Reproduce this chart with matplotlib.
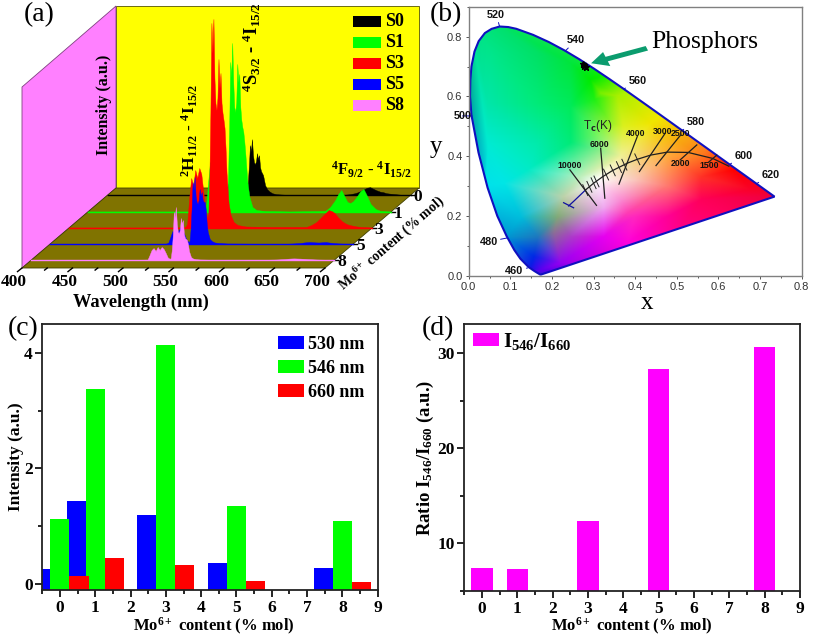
import matplotlib
matplotlib.use("Agg")
import matplotlib.pyplot as plt
import matplotlib.tri as mtri
import numpy as np
from matplotlib.patches import Polygon, Rectangle, FancyArrow
from matplotlib.transforms import Affine2D
from matplotlib.ticker import MultipleLocator

# ---- panel (a) spectra
wl = [400, 510, 515, 517, 519, 521, 523, 525, 527, 529, 531, 533, 535, 537, 538, 539, 540, 541, 542, 543,
      544, 545, 546, 547, 548, 549, 550, 551, 552, 553, 554, 555, 556, 558, 560, 563, 567, 575, 600, 635,
      640, 645, 648, 651, 654, 657, 660, 663, 666, 670, 673, 676, 680, 685, 690, 700]
S0 = [.3, .3, .5, 2, 9, 16, 14, 19, 17, 22, 18, 11, 6, 3, 4, 14, 30, 50, 44, 56,
      40, 33, 31, 34, 42, 36, 40, 28, 24, 22, 20, 15, 10, 6, 4, 2, 1, .5, .3, .5,
      1, 2, 3, 4.5, 6, 7.5, 8, 6.5, 5, 3.5, 3, 2, 1.5, 1, .5, .3]
S1 = [.5, .5, 1, 5, 28, 50, 44, 62, 54, 70, 58, 36, 18, 10, 14, 40, 85, 150, 135, 169,
      130, 105, 100, 110, 148, 130, 138, 105, 92, 85, 80, 70, 58, 30, 15, 5, 2, 1, .5, 1,
      5, 12, 18, 22, 16, 10, 9, 11, 15, 21, 23, 17, 8, 3, 1, .5]
S3 = [.5, .5, .8, 4, 30, 50, 42, 58, 50, 60, 54, 36, 18, 10, 14, 50, 115, 205, 175, 209,
      150, 125, 118, 130, 169, 140, 155, 125, 115, 108, 100, 80, 55, 25, 13, 6, 3, 1.5, 1, 1,
      3, 6, 9, 12, 15, 18, 17, 15, 11, 7, 5, 3.5, 2.5, 1.5, 1, .5]
S5 = [.3, .3, .4, 1.5, 7, 13, 11, 15, 13, 17, 14, 9, 4, 2, 3, 15, 35, 62, 55, 67,
      48, 42, 40, 44, 55, 48, 52, 44, 42, 42, 35, 20, 12, 5, 3, 1.5, 1, .5, .3, .3,
      .5, .8, 1, 1.5, 1.8, 2, 1.8, 1.6, 1.5, 1.8, 2, 1.5, 1, .6, .4, .3]
S8 = [.3, .3, .4, 5, 10, 12, 9, 13, 10, 13, 11, 7, 2.5, 1.2, 2, 10, 25, 48, 42, 53,
      36, 28, 27, 30, 42, 36, 40, 26, 22, 21, 20, 16, 9, 3, 1.5, .8, .5, .3, .3, .3,
      .4, .6, .8, 1, 1.3, 1.5, 1.6, 1.5, 1.4, 1.2, 1, .8, .6, .4, .3, .3]
series_names = ["S0", "S1", "S3", "S5", "S8"]
series_depth = [0.91, 0.70, 0.50, 0.30, 0.10]
series_cols = ["#000000", "#00ff00", "#ff0000", "#0000ff", "#ff80ff"]
depth_labels = ["0", "1", "3", "5", "8"]

# ---- panel (b) CIE locus, planckian locus, isotherms
loc_x = [.1741, .1733, .1714, .1644, .1566, .1440, .1241, .1096, .0913, .0687, .0454, .0235, .0065, .0032, .0039, .0065,
         .0139, .024, .0389, .055, .0743, .095, .1142, .1547, .1929, .2296, .2658, .3016, .3373, .3731, .4087, .4441,
         .4788, .5125, .5448, .5752, .6029, .6270, .6658, .6915, .7190, .7300, .7347]
loc_y = [.0050, .0048, .0051, .0109, .0177, .0297, .0578, .0868, .1327, .2007, .2950, .4127, .5384, .60, .6548, .70,
         .7502, .785, .8120, .826, .8338, .832, .8262, .8059, .7816, .7543, .7243, .6923, .6589, .6245, .5896, .5547,
         .5202, .4866, .4544, .4242, .3965, .3725, .3340, .3083, .2809, .2700, .2653]
planck_x = [.240, .254, .281, .300, .322, .345, .381, .405, .437, .477, .527, .586, .625]
planck_y = [.234, .252, .288, .310, .332, .352, .377, .390, .404, .414, .413, .393, .367]
mired_x = [.280, .290, .300, .307, .330, .346, .361, .374, .405]
mired_y = [.287, .298, .310, .316, .339, .353, .364, .372, .390]
iso_names = ["10000", "6000", "4000", "3000", "2500", "2000", "1500"]
iso_x0 = [.243, .317, .405, .472, .509, .548, .596]
iso_y0 = [.355, .427, .466, .477, .471, .438, .404]
iso_x1 = [.307, .327, .361, .410, .450, .508, .576]
iso_y1 = [.236, .260, .307, .349, .369, .388, .380]
iso_lab_x = [.243, .313, .402, .465, .508, .509, .578]
iso_lab_y = [.368, .440, .477, .484, .475, .376, .370]
phos_x = [.274, .278, .281, .276]
phos_y = [.708, .702, .698, .705]
wave_names = ["460", "480", "500", "520", "540", "560", "580", "600", "620"]
wave_tx = [.110, .048, -.015, .066, .258, .405, .545, .660, .725]
wave_ty = [.018, .115, .535, .873, .788, .652, .515, .402, .338]
wave_ax = [.142, .092, .008, .074, .232, .373, .513, .627, .691]
wave_ay = [.027, .127, .535, .835, .752, .625, .487, .373, .308]

# colours sampled across the chromaticity diagram
col_pts = [
    (.0, .0, 0, 40, 230), (.8, .0, 255, 0, 120), (.8, .9, 255, 255, 0), (.0, .9, 0, 225, 120),
    (.083, .31, 0, 230, 230), (.14, .355, 0, 235, 200), (.123, .197, 0, 190, 220), (.164, .13, 30, 120, 190),
    (.155, .064, 0, 40, 230), (.171, .02, 90, 0, 240), (.203, .144, 140, 110, 150), (.212, .197, 130, 170, 120),
    (.227, .264, 190, 210, 170), (.267, .33, 190, 240, 190), (.308, .32, 255, 255, 255), (.243, .13, 170, 60, 200),
    (.219, .043, 150, 0, 240), (.323, .23, 240, 170, 240), (.323, .13, 230, 0, 240), (.38, .21, 255, 60, 180),
    (.38, .11, 255, 0, 220), (.051, .745, 0, 230, 140), (.164, .745, 0, 225, 100), (.243, .71, 0, 230, 60),
    (.291, .655, 0, 235, 0), (.315, .61, 120, 240, 0), (.30, .59, 30, 240, 20), (.044, .575, 0, 230, 170),
    (.164, .575, 0, 235, 120), (.243, .565, 0, 235, 90), (.044, .445, 0, 235, 210), (.164, .445, 0, 235, 170),
    (.243, .445, 0, 235, 120), (.308, .478, 120, 245, 90), (.37, .50, 220, 240, 30), (.356, .60, 170, 240, 0),
    (.34, .51, 150, 240, 40), (.436, .51, 240, 230, 0), (.364, .40, 240, 240, 150), (.476, .40, 255, 170, 60),
    (.556, .40, 255, 120, 30), (.636, .354, 255, 0, 0), (.556, .33, 255, 50, 40), (.395, .32, 250, 200, 190),
    (.476, .30, 255, 120, 110), (.676, .288, 250, 0, 40), (.556, .254, 255, 0, 90), (.476, .197, 255, 0, 150),
    (.395, .197, 255, 40, 190), (.73, .265, 240, 0, 60), (.364, .254, 250, 140, 210), (.09, .13, 0, 150, 210),
    (.04, .30, 0, 225, 235), (.145, .02, 20, 20, 230), (.45, .05, 255, 0, 180),
]
col_x = [p[0] for p in col_pts]
col_y = [p[1] for p in col_pts]

# ---- panel (c) and (d) bars
content = [0, 1, 3, 5, 8]
i530 = [0.26, 1.435, 1.187, 0.363, 0.27]
i546 = [1.118, 3.378, 4.127, 1.343, 1.089]
i660 = [0.144, 0.455, 0.329, 0.046, 0.03]
ratio = [7.42, 7.32, 12.4, 28.4, 30.65]

W, H = 813, 635
plt.rcParams['font.family'] = ['Liberation Serif', 'DejaVu Serif']
plt.rcParams['font.weight'] = 'bold'
plt.rcParams['mathtext.fontset'] = 'custom'
plt.rcParams['mathtext.rm'] = 'Liberation Serif:bold'
plt.rcParams['mathtext.it'] = 'Liberation Serif:bold'
plt.rcParams['mathtext.bf'] = 'Liberation Serif:bold'

fig = plt.figure(figsize=(W / 100, H / 100), dpi=100)


def px_axes(left, top, right, bottom):
    return fig.add_axes([left / W, 1 - bottom / H, (right - left) / W, (bottom - top) / H])


# canvas in pixels, used for panel (a) and free text, kept above the other axes
bg = fig.add_axes([0, 0, 1, 1])
bg.set_xlim(0, W)
bg.set_ylim(H, 0)
bg.axis('off')
bg.set_zorder(5)

x0, y0 = 22, 268        # front left corner of floor
dx, dy = 94, -80        # full depth shift
wall_top = 6
nm_px = 303 / 300.0

bg.add_patch(Polygon([(x0 + dx, y0 + dy), (x0 + dx + 303, y0 + dy), (x0 + dx + 303, wall_top), (x0 + dx, wall_top)],
                     fc="#ffff00", ec="#555500", lw=0.6))
bg.add_patch(Polygon([(x0, y0), (x0, 87), (x0 + dx, wall_top), (x0 + dx, y0 + dy)],
                     fc="#ff80ff", ec="#804080", lw=0.6))
bg.add_patch(Polygon([(x0, y0), (x0 + 303, y0), (x0 + dx + 303, y0 + dy), (x0 + dx, y0 + dy)],
                     fc="#807300", ec="#404000", lw=0.6))

spectra = [S0, S1, S3, S5, S8]
for name, d, col, vals in zip(series_names, series_depth, series_cols, spectra):
    tr = Affine2D().translate(-400, 0).scale(nm_px, -1).translate(x0 + dx * d, y0 + dy * d) + bg.transData
    bg.fill_between(wl, 0, vals, transform=tr, color=col, lw=0.3, zorder=3)
    bg.plot([400, 700], [0, 0], transform=tr, color=col, lw=1.0, zorder=3)

# wavelength and depth ticks
for w in range(400, 701, 25):
    xt = x0 + (w - 400) * nm_px
    ln = 6 if w % 50 == 0 else 3.5
    bg.plot([xt, xt - ln * 0.75], [y0, y0 + ln * 0.6], color='k', lw=1)
    if w % 50 == 0:
        bg.text(xt - 8, 282, str(w), ha='center', va='center', fontsize=12.5)
for d, lab in zip(series_depth, depth_labels):
    xt, yt = x0 + 303 + dx * d, y0 + dy * d
    bg.plot([xt, xt + 4], [yt, yt], color='k', lw=1)
    bg.text(xt + 7, yt + 2, lab, ha='center', va='center', fontsize=12.5)

bg.text(141, 302, "Wavelength (nm)", ha='center', va='center', fontsize=13.2)
bg.text(104, 105, "Intensity (a.u.)", ha='center', va='center', rotation=90, fontsize=11.5)
bg.text(392, 244, r"Mo$^{6+}$ content (% mol)", ha='center', va='center', rotation=41, fontsize=10,
        rotation_mode='anchor')
bg.text(252, 47, r"$^{4}$S$_{3/2}$ - $^{4}$I$_{15/2}$", ha='center', va='center', rotation=90, fontsize=13.5)
bg.text(190, 130, r"$^{2}$H$_{11/2}$ - $^{4}$I$_{15/2}$", ha='center', va='center', rotation=90, fontsize=12.5)
bg.text(371, 170, r"$^{4}$F$_{9/2}$ - $^{4}$I$_{15/2}$", ha='center', va='center', fontsize=12)

for i, (name, col) in enumerate(zip(series_names, series_cols)):
    yl = 16 + 21 * i
    bg.add_patch(Rectangle((353, yl), 28, 11, fc=col, ec='none'))
    bg.text(385, yl + 5.5, name, ha='left', va='center', fontsize=13)

for txt, xl, yl in [("(a)", 39, 15), ("(b)", 446, 15), ("(c)", 23, 329), ("(d)", 438, 329)]:
    bg.text(xl, yl, txt, ha='center', va='center', fontsize=20, fontweight='normal')

# ---- panel (b)
axb = px_axes(468.7, 6.7, 801.7, 276)
axb.set_xlim(0, 0.8)
axb.set_ylim(0, 0.9)
gx, gy = np.meshgrid(np.linspace(0, 0.8, 400), np.linspace(0, 0.9, 450))
tri = mtri.Triangulation(col_x, col_y)
rgb = np.dstack([np.ma.filled(mtri.LinearTriInterpolator(tri, np.array([p[k] for p in col_pts], dtype=float))(gx, gy), 255) / 255.0
                 for k in (2, 3, 4)])
im = axb.imshow(np.clip(rgb, 0, 1), origin='lower', extent=(0, 0.8, 0, 0.9), aspect='auto', interpolation='bilinear')
locus = Polygon(list(zip(loc_x, loc_y)), closed=True, fc='none', ec='#1010c0', lw=1.5, transform=axb.transData)
axb.add_patch(locus)
im.set_clip_path(locus)
axb.plot(planck_x[:3], planck_y[:3], color='#1010a0', lw=0.9)
axb.plot(planck_x[2:], planck_y[2:], color='#202020', lw=0.9)
for xm, ym in zip(mired_x, mired_y):
    axb.plot([xm - .006, xm + .006], [ym + .018, ym - .018], color='#202020', lw=0.7)
axb.plot([.228, .252], [.245, .228], color='#1010a0', lw=0.9)
for xa, ya, xb, yb in zip(iso_x0, iso_y0, iso_x1, iso_y1):
    axb.plot([xa, xb], [ya, yb], color='#202020', lw=0.9)
for xa, ya, nm in zip(iso_lab_x, iso_lab_y, iso_names):
    axb.text(xa, ya, nm, fontsize=6.3, ha='center', va='center', family='Liberation Sans', color='#111111')
axb.text(0.31, 0.50, r"T$_{\rm c}$(K)", fontsize=8.5, ha='center', va='center', family='Liberation Sans',
         fontweight='normal', math_fontfamily='dejavusans', color='#222222')
axb.plot(phos_x, phos_y, ls='none', marker='*', ms=4.5, color='k')
axb.add_patch(FancyArrow(0.428, 0.761, -0.134, -0.05, width=0.016, head_width=0.05, head_length=0.04,
                         length_includes_head=True, fc='#0b9c6e', ec='none'))
for nm, xa, ya, px_, py_ in zip(wave_names, wave_tx, wave_ty, wave_ax, wave_ay):
    axb.annotate(nm, (px_, py_), (xa, ya), fontsize=7.8, ha='center', va='center', family='Liberation Sans',
                 color='#111111', annotation_clip=False,
                 arrowprops=dict(arrowstyle='-', color='#1010c0', lw=0.7, shrinkA=0, shrinkB=0))
axb.set_xticks(np.arange(0, 0.81, 0.1))
axb.set_yticks(np.arange(0, 0.81, 0.2))
axb.xaxis.set_minor_locator(MultipleLocator(0.05))
axb.yaxis.set_minor_locator(MultipleLocator(0.1))
axb.tick_params(which='both', labelsize=8, labelcolor='#333333', color='#555555', width=0.7, length=2.5, pad=2)
axb.tick_params(which='minor', length=1.5)
for lab in axb.get_xticklabels() + axb.get_yticklabels():
    lab.set_family('Liberation Sans')
    lab.set_fontweight('normal')
for s in axb.spines.values():
    s.set_color('#808080')
    s.set_linewidth(1.0)
bg.text(647, 303, "x", ha='center', va='center', fontsize=18, fontweight='normal')
bg.text(436, 147, "y", ha='center', va='center', fontsize=18, fontweight='normal')
bg.text(704.5, 42, "Phosphors", ha='center', va='center', fontsize=18.5, fontweight='normal')


def style_bar_axes(ax):
    ax.set_xlim(-0.5, 9)
    ax.set_xticks(range(0, 10))
    ax.xaxis.set_minor_locator(MultipleLocator(0.5))
    ax.tick_params(which='both', labelsize=12.5, width=1.2, pad=2)
    ax.tick_params(which='major', length=5)
    ax.tick_params(which='minor', length=3)
    for s in ax.spines.values():
        s.set_linewidth(1.3)
        s.set_color('#222222')


# ---- panel (c)
axc = px_axes(42.3, 324, 377.7, 590)
cbot, ctop = -0.104, 4.496
bw = 0.54
xs = np.array(content, dtype=float)
for off, vals, col, lab in [(-bw, i530, "#0000ff", "530 nm"), (0, i546, "#00ff00", "546 nm"), (bw, i660, "#ff0000", "660 nm")]:
    axc.bar(xs + off, np.array(vals) - cbot, bw, bottom=cbot, color=col, label=lab)
axc.set_ylim(cbot, ctop)
axc.set_yticks([0, 2, 4])
axc.yaxis.set_minor_locator(MultipleLocator(1))
style_bar_axes(axc)
bg.text(214, 626, r"Mo$^{6+}$ content (% mol)", ha='center', va='center', fontsize=12)
axc.set_ylabel("Intensity (a.u.)", fontsize=12.5, labelpad=0, fontweight='bold')
axc.legend(loc='upper right', frameon=False, handlelength=1.44, handleheight=0.75, labelspacing=0.38,
           handletextpad=0.25, borderpad=0, borderaxespad=0, bbox_to_anchor=(0.962, 0.955),
           prop={'size': 13, 'weight': 'bold'})

# ---- panel (d)
axd = px_axes(464.3, 324.3, 800, 591)
dbot, dtop = 5, 33.05
axd.bar(content, np.array(ratio) - dbot, 0.61, bottom=dbot, color="#ff00ff", label=r"I$_{546}$/I$_{660}$")
axd.set_ylim(dbot, dtop)
axd.set_yticks([10, 20, 30])
axd.yaxis.set_minor_locator(MultipleLocator(5))
style_bar_axes(axd)
bg.text(632, 626, r"Mo$^{6+}$ content (% mol)", ha='center', va='center', fontsize=12)
axd.set_ylabel(r"Ratio I$_{546}$/I$_{660}$ (a.u.)", fontsize=13.5, labelpad=1, fontweight='bold')
axd.legend(loc='upper left', frameon=False, handlelength=1.25, handleheight=0.6, handletextpad=0.2, borderpad=0,
           borderaxespad=0, bbox_to_anchor=(0.026, 0.975), prop={'size': 15, 'weight': 'bold'})

fig.savefig("out.png", dpi=100)
